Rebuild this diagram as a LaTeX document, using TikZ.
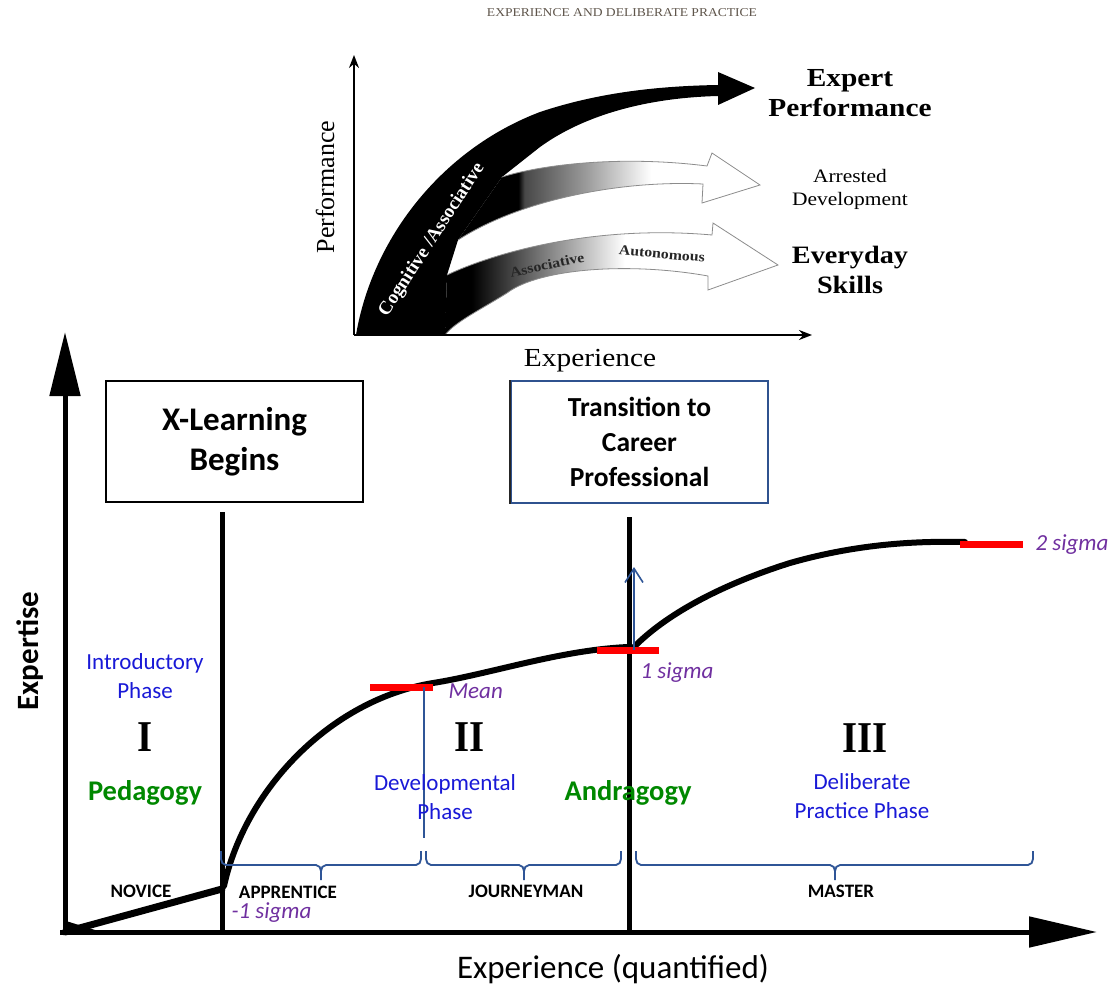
\documentclass[tikz,border=0pt]{standalone}
\usepackage{fontspec}
\setmainfont{Carlito}
\newfontfamily\insetserif[FakeStretch=1.13]{Liberation Serif}
\newfontfamily\insetplain{Liberation Serif}
\newfontfamily\numeralfont[FakeStretch=0.88]{Liberation Serif}
\usetikzlibrary{arrows.meta}

\definecolor{phaseblue}{RGB}{25,25,215}
\definecolor{bracketblue}{RGB}{47,85,151}
\definecolor{sigmapurple}{RGB}{112,48,160}
\definecolor{gogygreen}{RGB}{0,136,0}
\definecolor{markred}{RGB}{255,0,0}
\definecolor{boxblue}{RGB}{47,82,143}
\definecolor{titlegray}{RGB}{95,85,75}

\newcommand\fsz[2]{\fontsize{#1}{#2}\selectfont}

% fades of the two branch arrows (the middle 25bp..75bp spans the path)
\pgfdeclarehorizontalshading{arrestedfade}{100bp}{color(0bp)=(black); color(35bp)=(black); color(36bp)=(black!72); color(46bp)=(black!40); color(57bp)=(white); color(100bp)=(white)}
\pgfdeclarehorizontalshading{everydayfade}{100bp}{color(0bp)=(black); color(29bp)=(black); color(39bp)=(black!55); color(52bp)=(white); color(100bp)=(white)}

% a phase bracket: left end, middle cusp, right end
\newcommand\phasebrace[3]{%
  \draw[bracketblue, line width=1.8pt]
    (#1,851) -- (#1,859) to[out=-90,in=180] (#1+5,865) -- (#2-5,865)
    to[out=0,in=90] (#2,871) -- (#2,880)
    (#2,871) to[out=90,in=180] (#2+5,865) -- (#3-5,865)
    to[out=0,in=-90] (#3,859) -- (#3,851);}

\begin{document}
\begin{tikzpicture}[x=1pt, y=-1pt,
  phase/.style={text=phaseblue, font=\fsz{23}{29}, align=center},
  level/.style={font=\bfseries\fsz{19}{22}, anchor=base},
  sigma/.style={text=sigmapurple, font=\itshape\fsz{23}{27}, anchor=base west},
  gogy/.style={text=gogygreen, font=\bfseries\fsz{28.5}{30}, anchor=base},
  numeral/.style={font=\numeralfont\bfseries\fsz{44}{44}, anchor=base},
  redmark/.style={markred, line width=7pt},
  heavy/.style={line width=5pt},
  curve/.style={line width=6pt, line cap=round},
  branchline/.style={draw=black!45, line width=0.8pt}
]
\useasboundingbox (0,0) rectangle (1109,987);
\fill[white] (0,0) rectangle (1109,987);

%% ---------- upper chart: experience and deliberate practice ----------
\node[font=\insetserif\fsz{12}{14}, text=titlegray] (title) at (622,13)
  {EXPERIENCE AND DELIBERATE PRACTICE};

% main black band with its arrow head
\fill[black] (356,335) .. controls (372,240) and (440,150) .. (540,112)
  .. controls (600,92) and (660,86) .. (718,85) -- (718,72) -- (755,88)
  -- (718,105) -- (718,96) .. controls (640,98) and (580,118) .. (540,147)
  -- (502,177) -- (458,240) -- (447,275) -- (445,335) -- cycle;

% arrested development branch
\path[shade, shading=arrestedfade] (502,177) .. controls (540,165) and (620,155) .. (707,166)
  -- (712,153) -- (760,185) -- (702,203) -- (703,184)
  .. controls (620,180) and (520,200) .. (458,240) -- cycle;
\path[branchline] (502,177) .. controls (540,165) and (620,155) .. (707,166)
  -- (712,153) -- (760,185) -- (702,203) -- (703,184)
  .. controls (620,180) and (520,200) .. (458,240);

% everyday skills branch
\path[shade, shading=everydayfade] (447,275) .. controls (500,250) and (600,225) .. (712,235)
  -- (713,223) -- (778,265) -- (708,290) -- (708,276)
  .. controls (630,262) and (540,268) .. (507,293)
  .. controls (480,310) and (455,322) .. (445,335) -- cycle;
\path[branchline] (447,275) .. controls (500,250) and (600,225) .. (712,235)
  -- (713,223) -- (778,265) -- (708,290) -- (708,276)
  .. controls (630,262) and (540,268) .. (507,293)
  .. controls (480,310) and (455,322) .. (445,335);

% axes
\coordinate (io) at (354,335);
\coordinate (iy) at (354,55);
\coordinate (ix) at (812,335);
\draw[line width=1.8pt, -{Stealth[length=13pt,width=10pt]}] (io) -- (iy);
\draw[line width=1.8pt, -{Stealth[length=13pt,width=10pt]}] (io) -- (ix);

\node[font=\insetplain\fsz{26}{30}, rotate=90] (iperf) at (325,187) {Performance};
\node[font=\insetserif\fsz{26}{30}, anchor=base] (iexp) at (590,366) {Experience};

\node[text=white, font=\insetplain\bfseries\fsz{19}{22}, rotate=57] (cogn) at (432,240)
  {Cognitive /Associative};
\node[text=black!85, font=\insetserif\bfseries\fsz{14}{16}, rotate=12] (assoc) at (547,265)
  {Associative};
\node[text=black!85, font=\insetserif\bfseries\fsz{14}{16}, rotate=-5] (auton) at (662,254)
  {Autonomous};

\node[font=\insetserif\bfseries\fsz{26}{30}, align=center] (expert) at (850,93)
  {Expert\\Performance};
\node[font=\insetserif\fsz{19}{23}, align=center] (arrested) at (850,189)
  {Arrested\\Development};
\node[font=\insetserif\bfseries\fsz{25}{30}, align=center] (everyday) at (850,269.5)
  {Everyday\\Skills};

%% ---------- lower chart: expertise over experience ----------
\coordinate (O) at (65,932);
\coordinate (Ytop) at (65,332);
\coordinate (Xstart) at (60,932);
\coordinate (Xend) at (1097,932);
\draw[heavy, -{Triangle[length=64pt,width=30pt]}] (O) -- (Ytop);
\draw[heavy, -{Triangle[length=68pt,width=30pt]}] (Xstart) -- (Xend);

% phase boundaries
\coordinate (b1top) at (222,512);
\coordinate (b1bot) at (222,934);
\coordinate (b2top) at (629,517);
\coordinate (b2bot) at (629,934);
\draw[heavy] (b1top) -- (b1bot);
\draw[heavy] (b2top) -- (b2bot);

\node[draw=black, line width=2.5pt, minimum width=257pt, minimum height=121pt,
  inner sep=0pt, font=\bfseries\fsz{33}{40}, align=center] (xlearn) at (234.5,441.5)
  {X-Learning\\Begins};
\node[draw=boxblue, line width=2pt, minimum width=257pt, minimum height=122pt,
  inner sep=0pt, font=\bfseries\fsz{27.5}{35}, align=center] (career) at (639.5,442)
  {Transition to\\Career\\Professional};
\draw[black!85, line width=2.5pt] (career.north west) -- (career.south west);

% expertise curve
\coordinate (novend) at (222,889);
\fill (62,934) -- (108,934) -- (66,921) -- cycle;
\draw[curve, line width=7pt] (O) -- (novend);
\draw[curve] (224,886) .. controls (245,790) and (330,700) .. (433,683)
  .. controls (490,674) and (560,650) .. (628,647);
\draw[curve] (633,648) .. controls (665,615) and (720,585) .. (790,563)
  .. controls (860,543) and (920,541) .. (965,542);

% markers
\coordinate (meanL) at (370,687);  \coordinate (meanR) at (433,687);
\coordinate (s1L) at (597,650);    \coordinate (s1R) at (659,650);
\coordinate (s2L) at (960,544);    \coordinate (s2R) at (1023,544);
\draw[redmark] (meanL) -- (meanR);
\draw[redmark] (s1L) -- (s1R);
\draw[redmark] (s2L) -- (s2R);

\coordinate (meantop) at (424,687);
\coordinate (meandrop) at (424,838);
\draw[bracketblue, line width=1.6pt] (meantop) -- (meandrop);
\coordinate (jumpfoot) at (634,650);
\coordinate (jumphead) at (634,567);
\draw[bracketblue, line width=1.6pt, -{Straight Barb[length=14pt,width=18pt]}] (jumpfoot) -- (jumphead);

% stage brackets
\phasebrace{221}{321}{421}
\phasebrace{426}{524}{621}
\phasebrace{636}{835}{1033}

\node[level] (novice) at (141,897) {NOVICE};
\node[level] (apprentice) at (288,898) {APPRENTICE};
\node[level] (journeyman) at (526,897) {JOURNEYMAN};
\node[level] (master) at (841,897) {MASTER};

\node[sigma] (minus1) at (228,918) {-1 sigma};
\node[sigma] (mean) at (445,698) {Mean};
\node[sigma] (plus1) at (637,678) {1 sigma};
\node[sigma] (plus2) at (1032,550) {2 sigma};

\node[phase] (intro) at (145,676) {Introductory\\Phase};
\node[phase] (devel) at (445,797) {Developmental\\Phase};
\node[phase] (delib) at (862,796) {Deliberate\\Practice Phase};

\node[numeral] (numI) at (145,751) {I};
\node[numeral] (numII) at (470,751) {II};
\node[numeral] (numIII) at (865,752) {III};

\node[gogy] (peda) at (145,800) {Pedagogy};
\node[gogy] (andra) at (628,800) {Andragogy};

\node[font=\bfseries\fsz{31}{36}, rotate=90] (ylab) at (30,651) {Expertise};
\node[font=\fsz{33}{36}, anchor=base] (xlab) at (613,978) {Experience (quantified)};
\end{tikzpicture}
\end{document}
